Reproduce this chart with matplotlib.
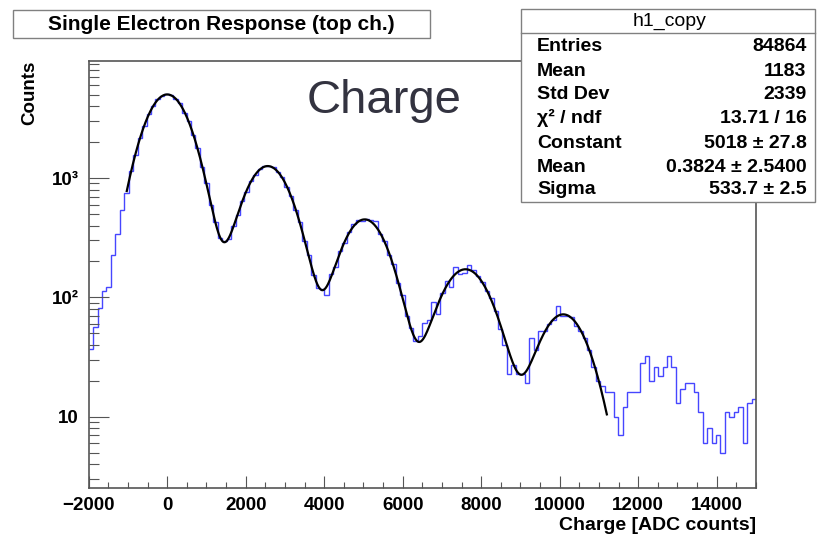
import numpy as np
import matplotlib
matplotlib.use('Agg')
import matplotlib.pyplot as plt
from matplotlib.patches import Rectangle
from matplotlib.lines import Line2D
from matplotlib.ticker import FixedLocator, MultipleLocator, LogLocator, NullFormatter

plt.rcParams['font.family'] = ['Liberation Sans', 'DejaVu Sans']

# histogram h1_copy: 150 bins from -2000 to 15000 ADC counts
x_min, x_max, n_bins = -2000, 15000, 150
counts = [
    37, 56, 81, 114, 123, 228, 338, 540, 756, 1150,
    1560, 2180, 2720, 3450, 3980, 4580, 4850, 5060, 4990, 4600,
    4230, 3540, 2990, 2290, 1770, 1240, 900, 590, 430, 312,
    296, 308, 395, 490, 648, 770, 952, 1062, 1195, 1270,
    1250, 1230, 1115, 1020, 845, 712, 540, 425, 298, 225,
    155, 120, 118, 104, 158, 180, 246, 283, 352, 410,
    445, 438, 452, 448, 440, 340, 298, 228, 190, 132,
    104, 70, 55, 43, 47, 61, 64, 92, 72, 108,
    138, 122, 179, 158, 160, 185, 168, 152, 134, 114,
    98, 77, 54, 40, 23, 27, 23, 23, 19, 46,
    36, 52, 52, 60, 64, 85, 70, 70, 68, 57,
    52, 46, 36, 26, 20, 18, 16, 16, 10, 7,
    12, 16, 16, 16, 28, 32, 20, 26, 22, 26,
    32, 26, 13, 17, 19, 19, 16, 11, 6, 8,
    6, 7, 5, 11, 10, 11, 12, 6, 13, 14,
]

# fit: sum of gaussians (constant, mean, sigma per photo-electron peak)
fit_const = [5018, 1260, 450, 172, 72]
fit_mean = [0.3824, 2560, 5030, 7600, 10090]
fit_sigma = [533.7, 550, 545, 600, 565]
fit_lo, fit_hi = -1030, 11200

x_ticks = [-2000, 0, 2000, 4000, 6000, 8000, 10000, 12000, 14000]
x_ticklabels = ['\u22122000', '0', '2000', '4000', '6000', '8000', '10000', '12000', '14000']
y_ticks = [10, 100, 1000]
y_ticklabels = ['10', '10\u00b2', '10\u00b3']

stats_labels = ['Entries', 'Mean', 'Std Dev', '\u03c7\u00b2 / ndf', 'Constant', 'Mean', 'Sigma']
stats_values = ['84864', '1183', '2339', '13.71 / 16', '5018 \u00b1 27.8',
                '0.3824 \u00b1 2.5400', '533.7 \u00b1 2.5']

W, H = 817, 538


def fx(px):
    return px / W


def fy(py):
    return 1 - py / H


fig = plt.figure(figsize=(W / 100, H / 100), dpi=100)
ax = fig.add_axes([fx(88.7), fy(488.3), fx(756) - fx(88.7), fy(61) - fy(488.3)])

edges = np.linspace(x_min, x_max, n_bins + 1)
ax.stairs(counts, edges, color='#4646ff', linewidth=1.0, baseline=None)

xf = np.linspace(fit_lo, fit_hi, 800)
yf = np.zeros_like(xf)
for c, m, s in zip(fit_const, fit_mean, fit_sigma):
    yf += c * np.exp(-0.5 * ((xf - m) / s) ** 2)
ax.plot(xf, yf, color='black', linewidth=1.6)

ax.set_yscale('log')
ax.set_xlim(x_min, x_max)
ax.set_ylim(2.51, 9570)

ax.xaxis.set_major_locator(FixedLocator(x_ticks))
ax.set_xticklabels(x_ticklabels)
ax.xaxis.set_minor_locator(MultipleLocator(500))
ax.yaxis.set_major_locator(FixedLocator(y_ticks))
ax.set_yticklabels(y_ticklabels)
ax.yaxis.set_minor_locator(LogLocator(base=10, subs=np.arange(2, 10)))
ax.yaxis.set_minor_formatter(NullFormatter())

for lab in ax.get_xticklabels() + ax.get_yticklabels():
    lab.set_fontweight('bold')
    lab.set_fontsize(13.5)

ax.tick_params(axis='x', which='major', direction='in', length=8.6, width=0.8, color='#555555', pad=6)
ax.tick_params(axis='x', which='minor', direction='in', length=4.3, width=0.8, color='#555555')
ax.tick_params(axis='y', which='major', direction='in', length=14.4, width=0.8, color='#555555', pad=7)
ax.tick_params(axis='y', which='minor', direction='in', length=7.2, width=0.8, color='#555555')
for sp in ax.spines.values():
    sp.set_color('#555555')
    sp.set_linewidth(1.2)

# axis titles (ROOT style, aligned to the axis ends)
fig.text(fx(756), fy(525), 'Charge [ADC counts]', ha='right', va='center',
         fontsize=14, fontweight='bold')
fig.text(fx(30), fy(61), 'Counts', ha='center', va='top', rotation=90,
         fontsize=13.5, fontweight='bold')

# big annotation
fig.text(fx(384), fy(101), 'Charge', ha='center', va='center', fontsize=34, color='#333340')

# title pave
fig.add_artist(Rectangle((fx(13), fy(38)), fx(430) - fx(13), fy(10) - fy(38),
                         transform=fig.transFigure, facecolor='white',
                         edgecolor='#808080', linewidth=1.0))
fig.text(fx(221), fy(24), 'Single Electron Response (top ch.)', ha='center', va='center',
         fontsize=15, fontweight='bold')

# stats pave
bx0, bx1, by0, by1 = 521, 815, 9, 202
fig.add_artist(Rectangle((fx(bx0), fy(by1)), fx(bx1) - fx(bx0), fy(by0) - fy(by1),
                         transform=fig.transFigure, facecolor='white',
                         edgecolor='#808080', linewidth=1.0, zorder=5))
fig.add_artist(Line2D([fx(bx0), fx(bx1)], [fy(33), fy(33)], transform=fig.transFigure,
                      color='#808080', linewidth=1.0, zorder=6))
fig.text(fx(670), fy(21.5), 'h1_copy', ha='center', va='center', fontsize=14, zorder=7)
row_y = [46.7, 71, 94.3, 118.3, 143.3, 167.7, 190]
for lab, val, ry in zip(stats_labels, stats_values, row_y):
    fig.text(fx(537), fy(ry), lab, ha='left', va='center', fontsize=14, fontweight='bold', zorder=7)
    fig.text(fx(806.5), fy(ry), val, ha='right', va='center', fontsize=14, fontweight='bold', zorder=7)

fig.savefig('out.png', dpi=100)
